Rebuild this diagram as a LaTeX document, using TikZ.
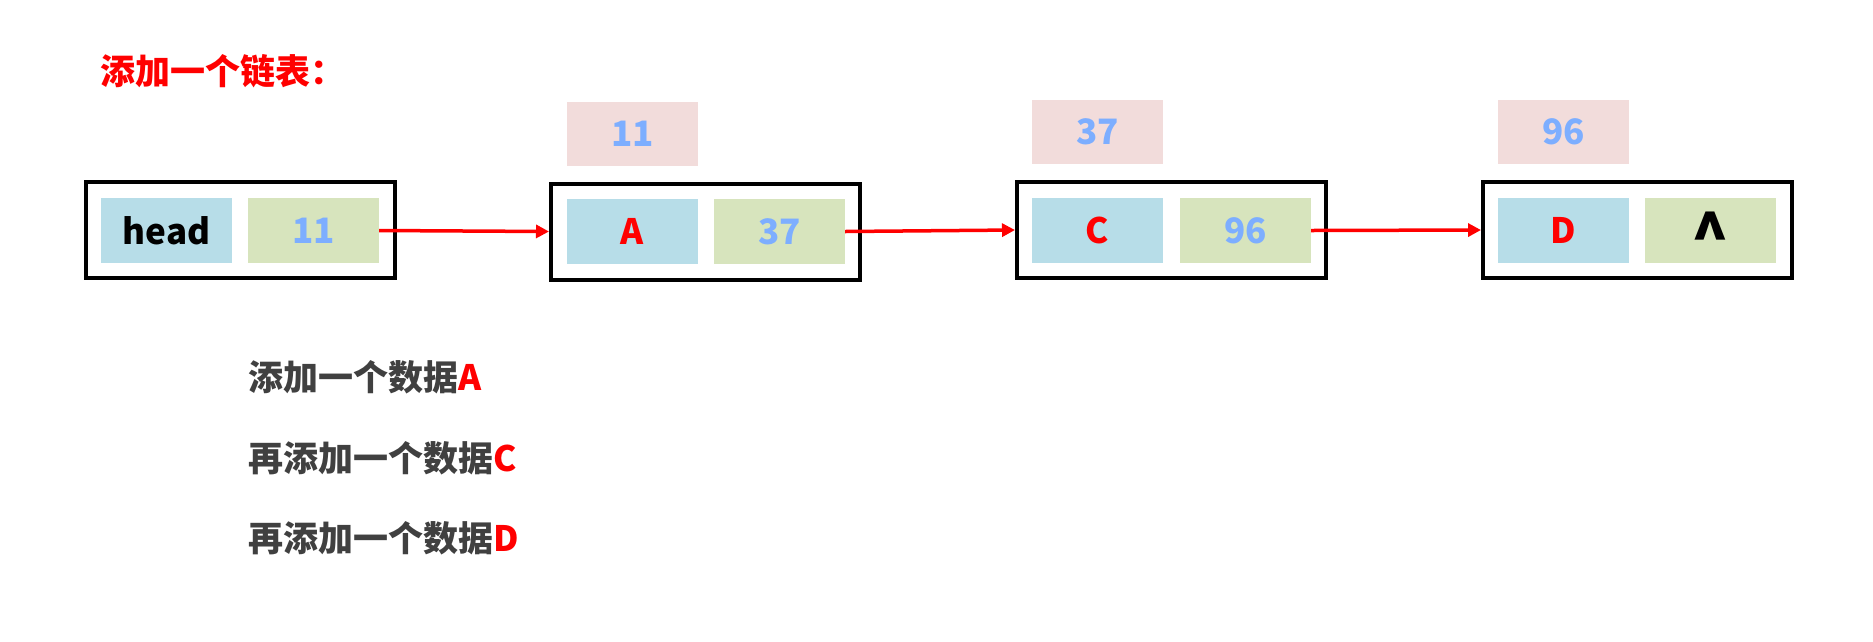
\documentclass[tikz,border=0pt]{standalone}
\usepackage{fontspec}
\setmainfont{Noto Sans CJK SC}
\usetikzlibrary{arrows.meta}
\definecolor{cellblue}{RGB}{183,221,232}
\definecolor{cellgreen}{RGB}{215,228,189}
\definecolor{cellpink}{RGB}{242,220,219}
\definecolor{numblue}{RGB}{125,174,255}
\definecolor{txtgray}{RGB}{64,64,64}
\definecolor{myred}{RGB}{255,0,0}
\tikzset{
  fnt/.style={font=\fontsize{35}{40}\selectfont\bfseries},
  outerbox/.style={draw=black, line width=4pt, minimum width=309pt, minimum height=96pt, inner sep=0pt},
  datacell/.style={fill=cellblue, draw=none, minimum width=131pt, minimum height=65pt, inner sep=0pt, fnt},
  nextcell/.style={fill=cellgreen, draw=none, minimum width=131pt, minimum height=65pt, inner sep=0pt, fnt, text=numblue},
  addrcell/.style={fill=cellpink, draw=none, minimum width=131pt, minimum height=64pt, inner sep=0pt, fnt, text=numblue},
  link/.style={draw=myred, line width=3.5pt, -{Triangle[length=13pt,width=13pt]}},
  caption/.style={anchor=west, inner sep=0pt, fnt, text=txtgray}
}
\begin{document}
\begin{tikzpicture}[x=1pt,y=-1pt]
\useasboundingbox (0,0) rectangle (1873,641);
% title
\node[anchor=west, inner sep=0pt, fnt, text=myred] (title) at (100,71) {添加一个链表：};
% head
\node[outerbox] (hb) at (240,230) {};
\node[datacell] (hd) at (166.5,230.5) {head};
\node[nextcell] (hn) at (313.5,230.5) {11};
% A
\node[outerbox] (ab) at (705.5,231.5) {};
\node[datacell, text=myred] (ad) at (632.5,231.5) {A};
\node[nextcell] (an) at (779.5,231.5) {37};
\node[addrcell] (aa) at (632.5,133.5) {11};
% C
\node[outerbox] (cb) at (1171.5,230) {};
\node[datacell, text=myred] (cd) at (1097.5,230.5) {C};
\node[nextcell] (cn) at (1245.5,230.5) {96};
\node[addrcell] (ca) at (1097.5,132) {37};
% D
\node[outerbox] (db) at (1637.5,230) {};
\node[datacell, text=myred] (dd) at (1563.5,230.5) {D};
\node[nextcell, text=black] (dn) at (1710.5,230.5) {\raisebox{0pt}[\dimexpr\height+10pt\relax]{\fontsize{62}{62}\selectfont\bfseries\textasciicircum}};
\node[addrcell] (da) at (1563.5,132) {96};
% links
\draw[link] (hn.east) -- (ab.west);
\draw[link] (an.east) -- (cb.west);
\draw[link] (cn.east) -- (db.west);
% captions
\node[caption] (l1) at (248,377.5) {添加一个数据\textcolor{myred}{A}};
\node[caption] (l2) at (248,458.5) {再添加一个数据\textcolor{myred}{C}};
\node[caption] (l3) at (248,538.5) {再添加一个数据\textcolor{myred}{D}};
\end{tikzpicture}
\end{document}
